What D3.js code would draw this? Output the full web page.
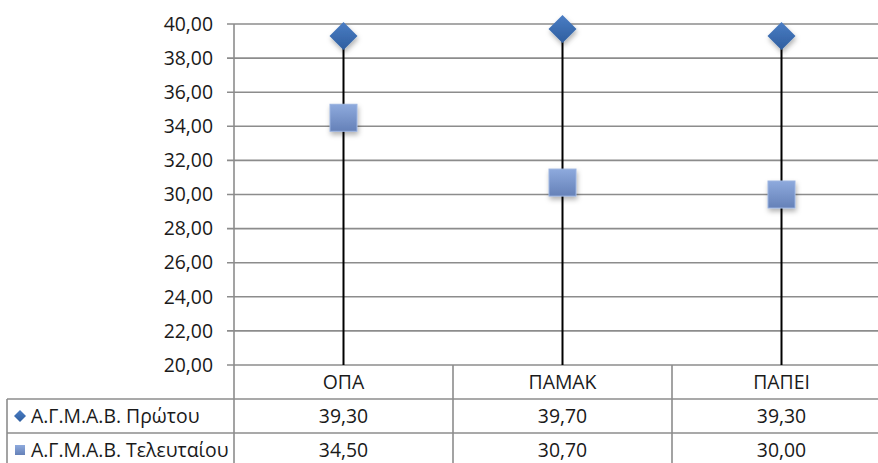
<!DOCTYPE html>
<html>
<head>
<meta charset="utf-8">
<script src="https://cdn.jsdelivr.net/npm/d3@7"></script>
<style>
  html, body { margin: 0; padding: 0; background: #fff; }
  svg { display: block; font-family: "Open Sans", sans-serif; }
</style>
</head>
<body>
<svg id="chart"></svg>
<script>
// data
const categories = ["ΟΠΑ", "ΠΑΜΑΚ", "ΠΑΠΕΙ"];
const seriesNames = ["Α.Γ.Μ.Α.Β. Πρώτου", "Α.Γ.Μ.Α.Β. Τελευταίου"];
const firstValues = [39.30, 39.70, 39.30];
const lastValues = [34.50, 30.70, 30.00];
const yTicks = [20, 22, 24, 26, 28, 30, 32, 34, 36, 38, 40];

const width = 878, height = 463;
const svg = d3.select("#chart").attr("width", width).attr("height", height);

// 영역
const plot = {left: 234, top: 24, bottom: 365, colW: 219};
const rowH = 34;
const tableLeft = 7;
const fmt = v => d3.format(".2f")(v).replace(".", ",");
const gridColor = "#8c8c8c";
const fontSize = 19.4;

const xScale = d3.scaleBand().domain(categories)
    .range([plot.left, plot.left + plot.colW * categories.length]);
const yScale = d3.scaleLinear().domain([20, 40]).range([plot.bottom, plot.top]);

// gradients & shadow
const defs = svg.append("defs");
const g1 = defs.append("linearGradient").attr("id", "gDiamond").attr("x1", 0).attr("y1", 0).attr("x2", 0).attr("y2", 1);
g1.append("stop").attr("offset", "0%").attr("stop-color", "#4a7dc4");
g1.append("stop").attr("offset", "100%").attr("stop-color", "#2f5e9f");
const g2 = defs.append("linearGradient").attr("id", "gSquare").attr("x1", 0).attr("y1", 0).attr("x2", 0).attr("y2", 1);
g2.append("stop").attr("offset", "0%").attr("stop-color", "#8eaadd");
g2.append("stop").attr("offset", "100%").attr("stop-color", "#6581b8");
const sh = defs.append("filter").attr("id", "shadow").attr("x", "-50%").attr("y", "-50%").attr("width", "200%").attr("height", "200%");
sh.append("feDropShadow").attr("dx", 1).attr("dy", 3).attr("stdDeviation", 2.5)
    .attr("flood-color", "#000").attr("flood-opacity", 0.3);

// gridlines + ticks
svg.append("g").selectAll("line.grid")
    .data(yTicks)
    .join("line")
    .attr("class", "grid")
    .attr("x1", plot.left - 7)
    .attr("x2", width)
    .attr("y1", d => yScale(d))
    .attr("y2", d => yScale(d))
    .style("stroke", gridColor)
    .style("stroke-width", 1.6);

// y labels
svg.append("g").selectAll("text")
    .data(yTicks)
    .join("text")
    .attr("x", 213)
    .attr("y", d => yScale(d))
    .attr("dy", "0.35em")
    .attr("text-anchor", "end")
    .style("font-size", fontSize + "px")
    .style("fill", "#1a1a1a")
    .text(fmt);

// y axis line (continues into table)
svg.append("line")
    .attr("x1", plot.left).attr("x2", plot.left)
    .attr("y1", plot.top).attr("y2", height)
    .style("stroke", gridColor).style("stroke-width", 1.6);

// table lines
const tableTop = plot.bottom;
svg.append("g").selectAll("line.row")
    .data([1, 2])
    .join("line")
    .attr("class", "row")
    .attr("x1", tableLeft).attr("x2", width)
    .attr("y1", d => tableTop + d * rowH).attr("y2", d => tableTop + d * rowH)
    .style("stroke", gridColor).style("stroke-width", 1.6);
svg.append("line")
    .attr("x1", tableLeft).attr("x2", tableLeft)
    .attr("y1", tableTop + rowH).attr("y2", height)
    .style("stroke", gridColor).style("stroke-width", 1.6);
svg.append("g").selectAll("line.col")
    .data(categories.slice(1))
    .join("line")
    .attr("class", "col")
    .attr("x1", d => xScale(d)).attr("x2", d => xScale(d))
    .attr("y1", tableTop).attr("y2", height)
    .style("stroke", gridColor).style("stroke-width", 1.6);

// table text
const cx = d => xScale(d) + xScale.bandwidth() / 2;
const tableRows = [
    categories.map(c => ({c, t: c})),
    categories.map((c, i) => ({c, t: fmt(firstValues[i])})),
    categories.map((c, i) => ({c, t: fmt(lastValues[i])}))
];
tableRows.forEach((row, ri) => {
    svg.append("g").selectAll("text")
        .data(row)
        .join("text")
        .attr("x", d => cx(d.c))
        .attr("y", tableTop + ri * rowH + rowH / 2)
        .attr("dy", "0.36em")
        .attr("text-anchor", "middle")
        .style("font-size", fontSize + "px")
        .style("fill", "#1a1a1a")
        .text(d => d.t);
});

// legend cells
const diamondPath = r => `M0,${-r}L${r},0L0,${r}L${-r},0Z`;
svg.append("path")
    .attr("d", diamondPath(6))
    .attr("transform", `translate(20,${tableTop + rowH * 1.5})`)
    .style("fill", "url(#gDiamond)");
svg.append("rect")
    .attr("x", 15).attr("y", tableTop + rowH * 2.5 - 5)
    .attr("width", 10).attr("height", 10)
    .style("fill", "url(#gSquare)");
svg.append("g").selectAll("text")
    .data(seriesNames)
    .join("text")
    .attr("x", 31)
    .attr("y", (d, i) => tableTop + rowH * (i + 1) + rowH / 2)
    .attr("dy", "0.36em")
    .style("font-size", fontSize + "px")
    .style("fill", "#1a1a1a")
    .text(d => d);

// high-low lines
svg.append("g").selectAll("line.hl")
    .data(categories)
    .join("line")
    .attr("class", "hl")
    .attr("x1", cx).attr("x2", cx)
    .attr("y1", yScale(20))
    .attr("y2", (d, i) => yScale(Math.max(firstValues[i], lastValues[i])))
    .style("stroke", "#000")
    .style("stroke-width", 2);

// markers
svg.append("g").selectAll("rect.last")
    .data(categories)
    .join("rect")
    .attr("class", "last")
    .attr("x", d => cx(d) - 13.5)
    .attr("y", (d, i) => yScale(lastValues[i]) - 13.5)
    .attr("width", 27).attr("height", 27)
    .style("fill", "url(#gSquare)")
    .style("stroke", "#9bb3e0")
    .style("stroke-width", 1)
    .attr("filter", "url(#shadow)");
svg.append("g").selectAll("path.first")
    .data(categories)
    .join("path")
    .attr("class", "first")
    .attr("d", diamondPath(14))
    .attr("transform", (d, i) => `translate(${cx(d)},${yScale(firstValues[i])})`)
    .style("fill", "url(#gDiamond)")
    .attr("filter", "url(#shadow)");
</script>
</body>
</html>
